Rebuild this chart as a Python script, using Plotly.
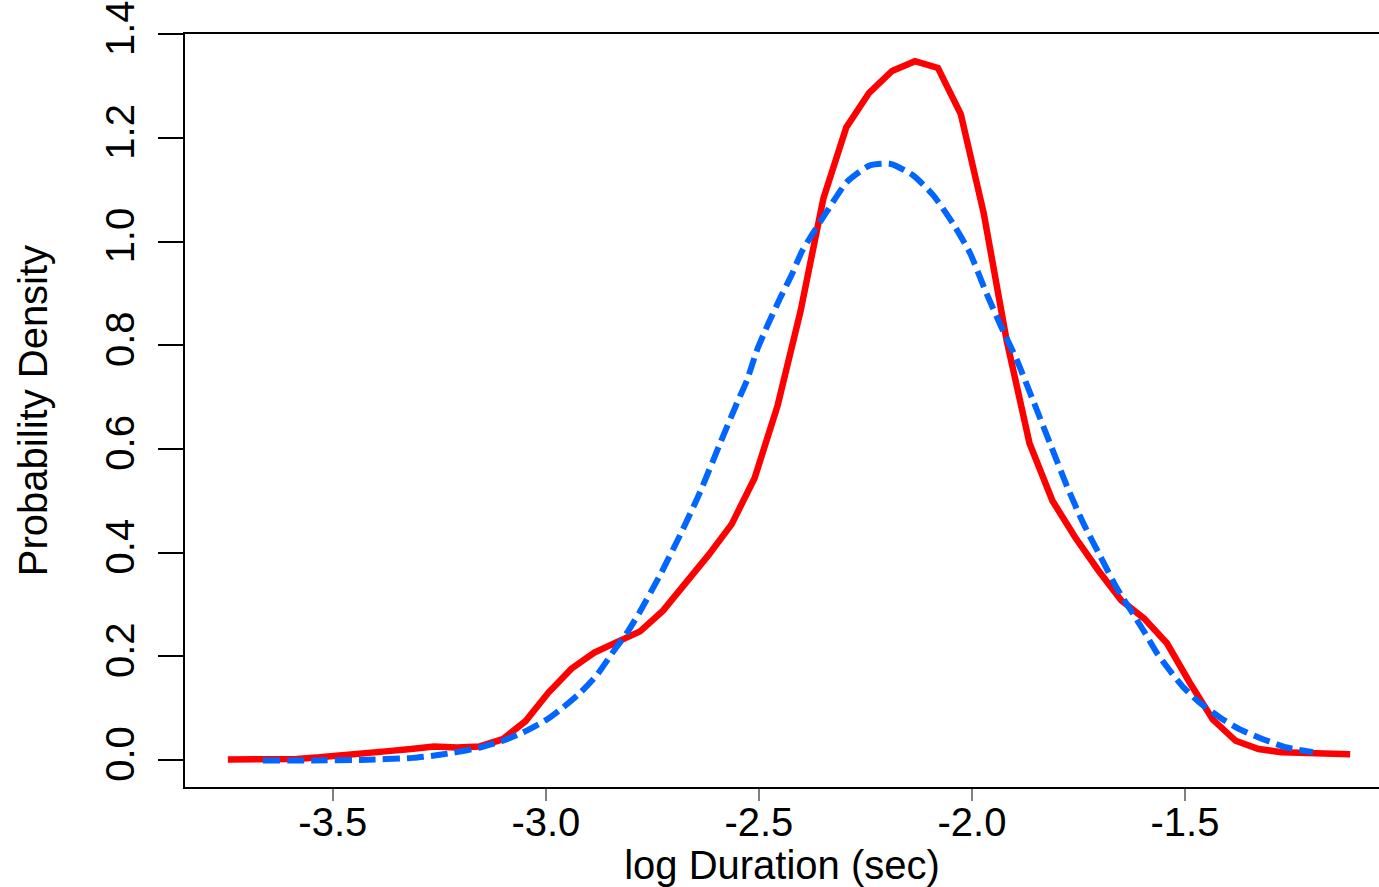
import plotly.graph_objects as go

# ---- data ----
red_x = [-3.7465, -3.6927, -3.6390, -3.5852, -3.5315, -3.4777, -3.4239, -3.3702, -3.3164, -3.2627,
         -3.2089, -3.1551, -3.1014, -3.0476, -2.9939, -2.9401, -2.8863, -2.8326, -2.7788, -2.7251,
         -2.6713, -2.6175, -2.5638, -2.5100, -2.4563, -2.4025, -2.3487, -2.2950, -2.2412, -2.1875,
         -2.1337, -2.0799, -2.0262, -1.9724, -1.9187, -1.8649, -1.8111, -1.7574, -1.7036, -1.6499,
         -1.5961, -1.5423, -1.4886, -1.4348, -1.3811, -1.3273, -1.2735, -1.2198, -1.1660, -1.1123]
red_y = [0.001, 0.001, 0.000, 0.002, 0.005, 0.008, 0.013, 0.017, 0.021, 0.026,
         0.024, 0.026, 0.040, 0.075, 0.130, 0.176, 0.207, 0.229, 0.248, 0.288,
         0.340, 0.396, 0.455, 0.544, 0.683, 0.865, 1.083, 1.220, 1.287, 1.329,
         1.348, 1.335, 1.246, 1.055, 0.810, 0.611, 0.500, 0.429, 0.366, 0.308,
         0.273, 0.225, 0.149, 0.078, 0.037, 0.021, 0.015, 0.013, 0.013, 0.011]

blue_x = [-3.6643, -3.5469, -3.4366, -3.3122, -3.2653, -3.2089, -3.1549, -3.1009, -3.0540, -2.9977,
          -2.9601, -2.9202, -2.8803, -2.8427, -2.8075, -2.7793, -2.7324, -2.6854, -2.6385, -2.5915,
          -2.5516, -2.5282, -2.5047, -2.4789, -2.4507, -2.4225, -2.3991, -2.3756, -2.3404, -2.2934,
          -2.2394, -2.1925, -2.1385, -2.0915, -2.0446, -2.0047, -1.9648, -1.9343, -1.8944, -1.8568,
          -1.8169, -1.7770, -1.7394, -1.6995, -1.6596, -1.6221, -1.5939, -1.5657, -1.5352, -1.5023,
          -1.4648, -1.4178, -1.3709, -1.3169, -1.2606, -1.1995]
blue_y = [-0.001, -0.001, 0.000, 0.004, 0.008, 0.015, 0.024, 0.037, 0.053, 0.078,
          0.101, 0.129, 0.164, 0.208, 0.248, 0.286, 0.356, 0.433, 0.516, 0.610,
          0.688, 0.732, 0.790, 0.840, 0.890, 0.937, 0.981, 1.013, 1.058, 1.115,
          1.147, 1.150, 1.128, 1.090, 1.035, 0.978, 0.898, 0.841, 0.771, 0.694,
          0.611, 0.528, 0.458, 0.394, 0.331, 0.282, 0.245, 0.206, 0.172, 0.139,
          0.110, 0.082, 0.059, 0.040, 0.024, 0.015]

x_tick_vals = [-3.5, -3.0, -2.5, -2.0, -1.5]
x_tick_text = ["-3.5", "-3.0", "-2.5", "-2.0", "-1.5"]
y_tick_vals = [0.0, 0.2, 0.4, 0.6, 0.8, 1.0, 1.2, 1.4]
y_tick_text = ["0.0", "0.2", "0.4", "0.6", "0.8", "1.0", "1.2", "1.4"]

FONT = "Liberation Sans, Arial, sans-serif"

fig = go.Figure()
fig.add_trace(go.Scatter(x=red_x, y=red_y, mode="lines",
                         line=dict(color="#ff0000", width=6.5),
                         showlegend=False, hoverinfo="skip"))
fig.add_trace(go.Scatter(x=blue_x, y=blue_y, mode="lines",
                         line=dict(color="#0066ff", width=6, dash="17px,7px", shape="spline", smoothing=0.6),
                         showlegend=False, hoverinfo="skip"))

fig.update_layout(
    width=1379, height=887,
    margin=dict(l=185, r=0, t=31, b=97),
    paper_bgcolor="white", plot_bgcolor="white",
    font=dict(family=FONT, size=40, color="black"),
    xaxis=dict(
        range=[-3.847, -1.0446],
        tickmode="array", tickvals=x_tick_vals, ticktext=x_tick_text,
        ticks="outside", ticklen=12, tickwidth=1.5, tickcolor="#808080",
        ticklabelstandoff=-13,
        showline=True, linecolor="black", linewidth=2, mirror=True,
        showgrid=False, zeroline=False,
        tickfont=dict(family=FONT, size=40, color="black"),
        title=dict(text="log Duration (sec)", font=dict(family=FONT, size=40, color="black"), standoff=15),
    ),
    yaxis=dict(
        range=[-0.0522, 1.4004],
        tickmode="array", tickvals=y_tick_vals, ticktext=y_tick_text,
        ticks="outside", ticklen=25, tickwidth=1.5, tickcolor="black",
        tickangle=-90, ticklabelstandoff=8, ticklabeloverflow="allow",
        showline=True, linecolor="black", linewidth=2, mirror=False,
        showgrid=False, zeroline=False,
        tickfont=dict(family=FONT, size=40, color="black"),
        title=dict(text="Probability Density", font=dict(family=FONT, size=40, color="black"), standoff=38),
    ),
)

fig.write_html("out.html")
